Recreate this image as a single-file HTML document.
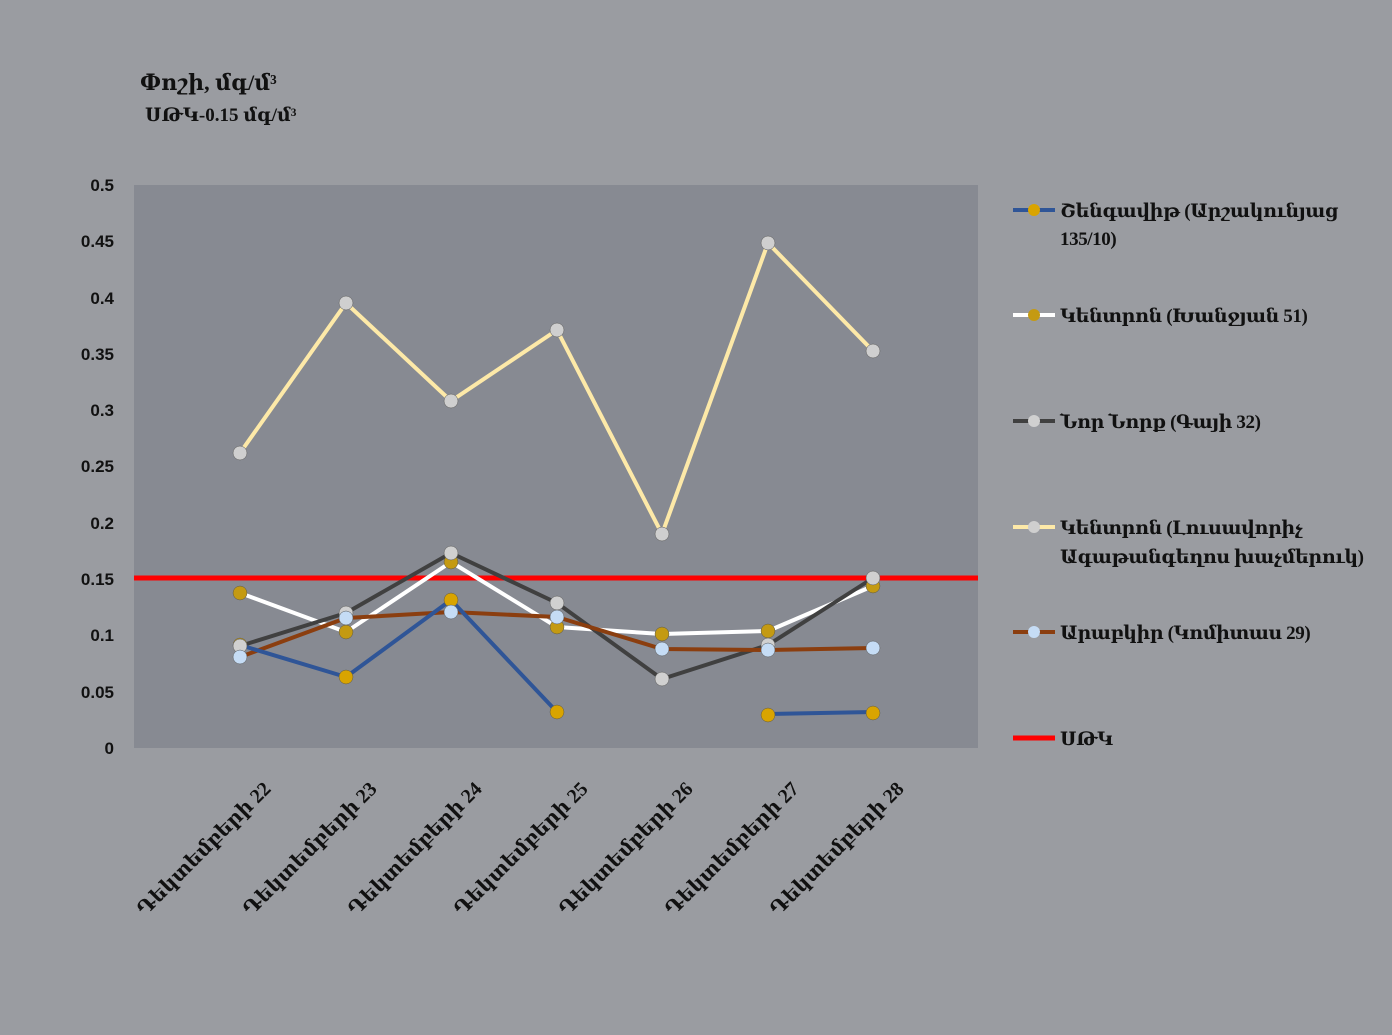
<!DOCTYPE html>
<html><head><meta charset="utf-8"><style>
body{margin:0;background:#9a9ca1;}
svg{display:block;font-family:"Liberation Serif","DejaVu Serif","DejaVu Sans",serif;font-weight:bold;}
</style></head><body>
<svg width="1392" height="1035" viewBox="0 0 1392 1035">
<rect width="1392" height="1035" fill="#9a9ca1"/>
<text x="140" y="90" font-size="22" fill="#111">Փոշի, մգ/մ³</text>
<text x="145" y="121" font-size="19" fill="#111">ՍԹԿ-0.15 մգ/մ³</text>
<rect x="134" y="185" width="844" height="563" fill="#878a92"/>
<g font-family="Liberation Sans,sans-serif" font-size="17" fill="#111" text-anchor="end">
<text x="114" y="191">0.5</text><text x="114" y="247">0.45</text><text x="114" y="304">0.4</text>
<text x="114" y="360">0.35</text><text x="114" y="416">0.3</text><text x="114" y="472">0.25</text>
<text x="114" y="529">0.2</text><text x="114" y="585">0.15</text><text x="114" y="641">0.1</text>
<text x="114" y="698">0.05</text><text x="114" y="754">0</text>
</g>
<line x1="134" y1="578" x2="978" y2="578" stroke="#ff0000" stroke-width="5"/>
<g fill="none" stroke-width="4" stroke-linejoin="round">
<polyline stroke="#fde9a8" points="240,453 346,303 451,401 557,330 662,534 768,243 873,351"/>
<polyline stroke="#ffffff" points="240,593 346,632 451,562 557,627 662,634 768,631 873,586"/>
<polyline stroke="#404040" points="240,646 346,613 451,553 557,603 662,679 768,645 873,578"/>
<polyline stroke="#8b3e0f" points="240,657 346,618 451,612 557,617 662,649 768,650 873,648"/>
<polyline stroke="#2f5597" points="240,645 346,677 451,600 557,712"/>
<polyline stroke="#2f5597" points="768,714 873,712"/>
</g>
<g stroke="#555" stroke-width="0.5">
<g fill="#d9a400"><circle cx="240" cy="645" r="7"/><circle cx="346" cy="677" r="7"/><circle cx="451" cy="600" r="7"/><circle cx="557" cy="712" r="7"/><circle cx="768" cy="715" r="7"/><circle cx="873" cy="713" r="7"/></g>
<g fill="#c49a12"><circle cx="240" cy="593" r="7"/><circle cx="346" cy="632" r="7"/><circle cx="451" cy="562" r="7"/><circle cx="557" cy="627" r="7"/><circle cx="662" cy="634" r="7"/><circle cx="768" cy="631" r="7"/><circle cx="873" cy="586" r="7"/></g>
<g fill="#d0d0d0"><circle cx="240" cy="646" r="7"/><circle cx="346" cy="613" r="7"/><circle cx="451" cy="553" r="7"/><circle cx="557" cy="603" r="7"/><circle cx="662" cy="679" r="7"/><circle cx="768" cy="645" r="7"/><circle cx="873" cy="578" r="7"/></g>
<g fill="#cfcfcf"><circle cx="240" cy="453" r="7"/><circle cx="346" cy="303" r="7"/><circle cx="451" cy="401" r="7"/><circle cx="557" cy="330" r="7"/><circle cx="662" cy="534" r="7"/><circle cx="768" cy="243" r="7"/><circle cx="873" cy="351" r="7"/></g>
<g fill="#c5dcf5"><circle cx="240" cy="657" r="7"/><circle cx="346" cy="618" r="7"/><circle cx="451" cy="612" r="7"/><circle cx="557" cy="617" r="7"/><circle cx="662" cy="649" r="7"/><circle cx="768" cy="650" r="7"/><circle cx="873" cy="648" r="7"/></g>
</g>
<g font-size="20" fill="#111" text-anchor="end">
<text transform="translate(272,790) rotate(-45)">Դեկտեմբերի 22</text>
<text transform="translate(378,790) rotate(-45)">Դեկտեմբերի 23</text>
<text transform="translate(483,790) rotate(-45)">Դեկտեմբերի 24</text>
<text transform="translate(589,790) rotate(-45)">Դեկտեմբերի 25</text>
<text transform="translate(694,790) rotate(-45)">Դեկտեմբերի 26</text>
<text transform="translate(800,790) rotate(-45)">Դեկտեմբերի 27</text>
<text transform="translate(905,790) rotate(-45)">Դեկտեմբերի 28</text>
</g>
<g font-size="19" fill="#111" letter-spacing="-0.4">
<line x1="1013" y1="210" x2="1055" y2="210" stroke="#2f5597" stroke-width="4"/><circle cx="1034" cy="210" r="6" fill="#d9a400"/>
<text x="1060" y="217">Շենգավիթ (Արշակունյաց</text><text x="1060" y="245">135/10)</text>
<line x1="1013" y1="315" x2="1055" y2="315" stroke="#fff" stroke-width="4"/><circle cx="1034" cy="315" r="6" fill="#c49a12"/>
<text x="1060" y="322">Կենտրոն (Խանջյան 51)</text>
<line x1="1013" y1="421" x2="1055" y2="421" stroke="#404040" stroke-width="4"/><circle cx="1034" cy="421" r="6" fill="#d0d0d0"/>
<text x="1060" y="428">Նոր Նորք (Գայի 32)</text>
<line x1="1013" y1="527" x2="1055" y2="527" stroke="#fde9a8" stroke-width="4"/><circle cx="1034" cy="527" r="6" fill="#cfcfcf"/>
<text x="1060" y="534">Կենտրոն (Լուսավորիչ</text><text x="1060" y="563">Ագաթանգեղոս խաչմերուկ)</text>
<line x1="1013" y1="632" x2="1055" y2="632" stroke="#8b3e0f" stroke-width="4"/><circle cx="1034" cy="632" r="6" fill="#c5dcf5"/>
<text x="1060" y="639">Արաբկիր (Կոմիտաս 29)</text>
<line x1="1013" y1="738" x2="1055" y2="738" stroke="#ff0000" stroke-width="5"/>
<text x="1060" y="745">ՍԹԿ</text>
</g>
</svg>
</body></html>
